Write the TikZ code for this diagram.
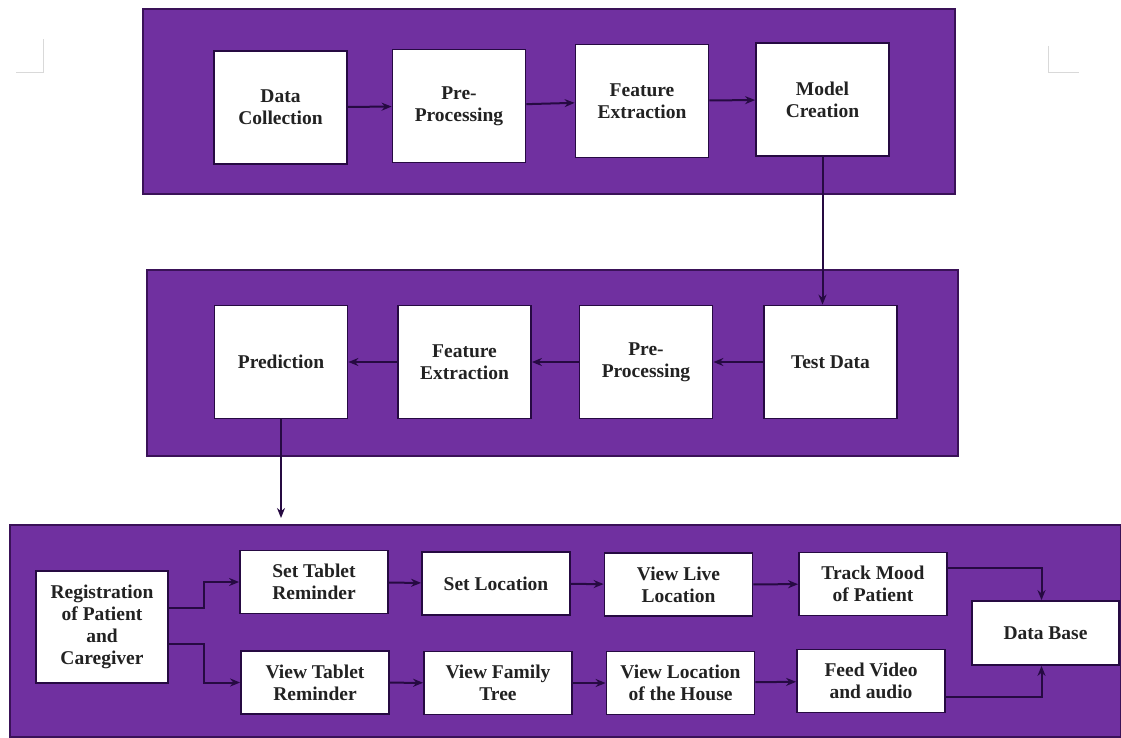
\documentclass[tikz,border=0pt]{standalone}
\usepackage{fontspec}
\setmainfont{Liberation Serif}
\definecolor{Panel}{RGB}{112,48,160}
\definecolor{PanelEdge}{RGB}{58,18,88}
\definecolor{Wire}{RGB}{38,10,66}
\definecolor{Ink}{RGB}{34,34,34}
\usepackage{tikz}
\usetikzlibrary{arrows.meta,calc}

\begin{document}
\begin{tikzpicture}[x=1pt,y=-1pt,
  box/.style={draw=Wire,line width=1.8pt,fill=white,align=center,inner sep=2pt,
    font=\fontsize{19.5}{22}\selectfont\bfseries,text=Ink},
  tall/.style={box,minimum width=133pt,minimum height=113pt},
  flat/.style={box,minimum width=148pt,minimum height=63pt},
  flow/.style={draw=Wire,line width=2pt,-{Stealth[length=10pt,width=8pt]}}]
  \useasboundingbox (0,0) rectangle (1121,738);
  \draw[gray!30,line width=1pt] (16,73) -- (43,73) -- (43,39);
  \draw[gray!30,line width=1pt] (1048,46) -- (1048,73) -- (1079,73);

  \fill[Panel,draw=PanelEdge,line width=1.2pt] (143,9) rectangle (955,194);
  \fill[Panel,draw=PanelEdge,line width=1.2pt] (147,270) rectangle (958,456);
  \fill[Panel,draw=PanelEdge,line width=1.2pt] (10,525) rectangle (1121,737);

  \node[tall] (dc) at (280.5,107.5) {Data\\Collection};
  \node[tall] (pp) at (459,106) {Pre-\\Processing};
  \node[tall] (fe) at (642,101) {Feature\\Extraction};
  \node[tall] (mc) at (822.5,99.5) {Model\\Creation};

  \node[tall] (td) at (830.5,362) {Test Data};
  \node[tall] (pp2) at (646,362) {Pre-\\Processing};
  \node[tall] (fe2) at (464.5,362) {Feature\\Extraction};
  \node[tall] (pred) at (281,362) {Prediction};
  \coordinate (drop) at (281,518);

  \node[box,minimum width=132pt,minimum height=112pt] (reg) at (102,627) {Registration\\of Patient\\and\\Caregiver};
  \node[flat] (str) at (314,582) {Set Tablet\\Reminder};
  \node[flat] (sl) at (496,583.5) {Set Location};
  \node[flat] (vll) at (678.5,584.5) {View Live\\Location};
  \node[flat] (tm) at (873,584) {Track Mood\\of Patient};
  \node[flat] (vtr) at (315,682.5) {View Tablet\\Reminder};
  \node[flat] (vft) at (498,683) {View Family\\Tree};
  \node[flat] (vlh) at (680.5,683) {View Location\\of the House};
  \node[flat] (fva) at (871,681) {Feed Video\\and audio};
  \node[flat,minimum width=147pt,minimum height=64pt] (db) at (1045.5,633) {Data Base};

  \draw[flow] (dc) -- (pp);
  \draw[flow] (pp) -- (fe);
  \draw[flow] (fe) -- (mc);
  \draw[flow] (mc.south) -- (mc.south |- td.north);
  \draw[flow] (td) -- (pp2);
  \draw[flow] (pp2) -- (fe2);
  \draw[flow] (fe2) -- (pred);
  \draw[flow] (pred.south) -- (drop);

  \draw[flow] ($(reg.east)!0.34!(reg.north east)$) -- ++(35,0) |- (str.west);
  \draw[flow] ($(reg.east)!0.29!(reg.south east)$) -- ++(35,0) |- (vtr.west);
  \draw[flow] (str) -- (sl);
  \draw[flow] (sl) -- (vll);
  \draw[flow] (vll) -- (tm);
  \draw[flow] (vtr) -- (vft);
  \draw[flow] (vft) -- (vlh);
  \draw[flow] (vlh) -- (fva);
  \draw[flow] ($(tm.east)!0.5!(tm.north east)$) -| ([xshift=-4pt]db.north);
  \draw[flow] ($(fva.east)!0.5!(fva.south east)$) -| ([xshift=-4pt]db.south);
\end{tikzpicture}
\end{document}
